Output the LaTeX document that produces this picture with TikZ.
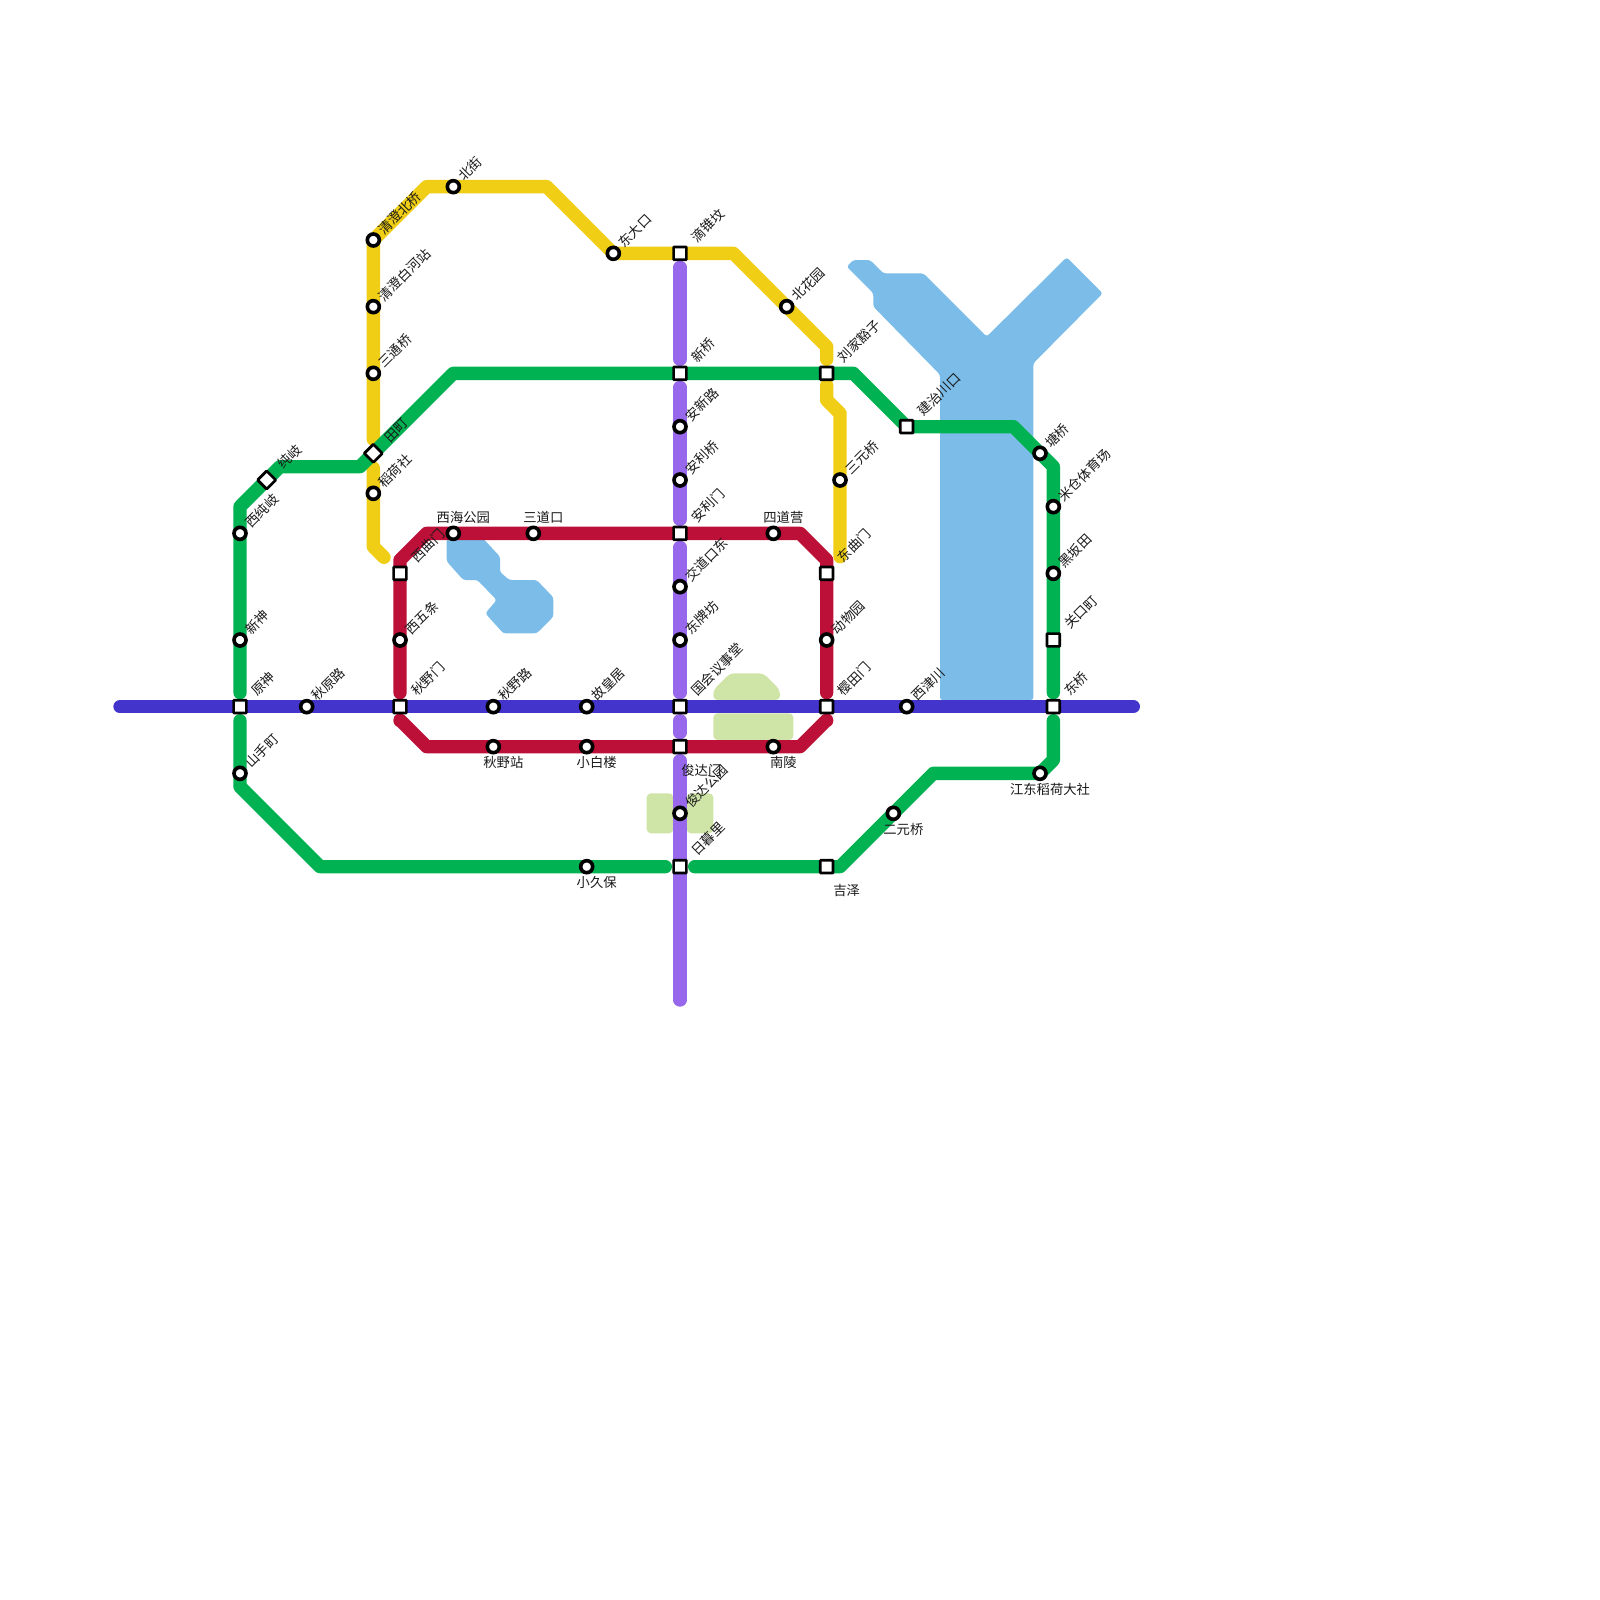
\documentclass[tikz,border=0pt]{standalone}
\usepackage{fontspec}
\setmainfont{Noto Sans CJK SC}
\usetikzlibrary{calc}
\pgfdeclarelayer{waterlayer}
\pgfdeclarelayer{linelayer}
\pgfsetlayers{waterlayer,linelayer,main}
\definecolor{cyellow}{HTML}{F0CE15}
\definecolor{cgreen}{HTML}{00B251}
\definecolor{cred}{HTML}{BD1038}
\definecolor{cpurple}{HTML}{9768EC}
\definecolor{cblue}{HTML}{4334CC}
\definecolor{cwater}{HTML}{7BBDE8}
\definecolor{cpark}{HTML}{CFE4A7}
\tikzset{
 cstn/.style={circle,draw=black,fill=white,line width=0.068cm,minimum size=0.225cm,inner sep=0pt},
 sstn/.style={rectangle,draw=black,fill=white,line width=0.05cm,minimum size=0.24cm,inner sep=0pt,rounded corners=0.4pt},
 dstn/.style={sstn,rotate=45},
 mline/.style={line width=0.25cm,line cap=round,line join=round},
 water/.style={fill=cwater,rounded corners=0.5mm},
 park/.style={fill=cpark,rounded corners=0.8mm},
 rlab/.style={rotate=45,anchor=west,inner sep=0pt,font=\fontsize{7.11pt}{8pt}\selectfont,text=black!90},
 hlab/.style={anchor=center,inner sep=0pt,font=\fontsize{7.11pt}{8pt}\selectfont,text=black!90},
}
\newcommand\cst[3]{\node[cstn] (#1) at (#2,#3) {};}
\newcommand\sst[3]{\node[sstn] (#1) at (#2,#3) {};}
\newcommand\dst[3]{\node[dstn] (#1) at (#2,#3) {};}
% rotated label beside a round station, and beside a square one
\newcommand\rc[2]{\node[rlab] (l#1) at ($(#1.center)+(0.55,-0.6)$) {#2};}
\newcommand\rs[2]{\node[rlab] (l#1) at ($(#1.center)+(1,-1)$) {#2};}
\newcommand\hl[4]{\node[hlab] (l#1) at (#2,#3) {#4};}
\begin{document}
\begin{tikzpicture}[x=0.25cm,y=-0.25cm]
\path[use as bounding box] (0,0) rectangle (120,120);
% stations
\cst{qcbq}{28}{18} \cst{qcbh}{28}{23} \cst{stq}{28}{28} \dst{tm}{28}{34} \cst{dhs}{28}{37}
\cst{bj}{34}{14} \cst{ddk}{46}{19} \sst{dzf}{51}{19} \cst{bhy}{59}{23}
\sst{ljhz}{62}{28} \sst{xq}{51}{28} \cst{axl}{51}{32} \cst{alq}{51}{36} \sst{alm}{51}{40}
\cst{syq}{63}{36} \sst{jzck}{68}{32} \cst{tq}{78}{34} \cst{mc}{79}{38} \cst{hbt}{79}{43}
\sst{gkd}{79}{48} \sst{dq}{79}{53} \sst{dqm}{62}{43} \cst{jdkd}{51}{44} \cst{dpf}{51}{48}
\cst{dwy}{62}{48} \sst{xqm}{30}{43} \cst{xwt}{30}{48} \sst{qym}{30}{53} \sst{ys}{18}{53}
\cst{xs}{18}{48} \cst{xcq}{18}{40} \dst{cq}{20}{36} \cst{qyl}{23}{53} \cst{qyr}{37}{53}
\cst{ghj}{44}{53} \sst{ghyst}{51}{53} \sst{ytm}{62}{53} \cst{xjc}{68}{53} \cst{ssd}{18}{58}
\cst{jdgy}{51}{61} \sst{rml}{51}{65} \cst{qyz}{37}{56} \cst{xbl}{44}{56} \sst{jdm}{51}{56}
\cst{nl}{58}{56} \cst{eyq}{67}{61} \cst{xjb}{44}{65} \sst{jz}{62}{65} \cst{jd}{78}{58}
\cst{sdy}{58}{40} \cst{sdk}{40}{40} \cst{xhgy}{34}{40}
% labels
\rc{qcbq}{清澄北桥} \rc{qcbh}{清澄白河站} \rc{stq}{三通桥} \rs{tm}{田町} \rc{dhs}{稻荷社}
\rc{bj}{北街} \rc{ddk}{东大口} \rs{dzf}{滴锥坟} \rc{bhy}{北花园} \rs{ljhz}{刘家豁子}
\rs{xq}{新桥} \rc{axl}{安新路} \rc{alq}{安利桥} \rs{alm}{安利门} \rc{syq}{三元桥}
\rs{jzck}{建治川口} \rc{tq}{塘桥} \rc{mc}{米仓体育场} \rc{hbt}{黑坂田} \rs{gkd}{关口町}
\rs{dq}{东桥} \rs{dqm}{东曲门} \rc{jdkd}{交道口东} \rc{dpf}{东牌坊} \rc{dwy}{动物园}
\rs{xqm}{西曲门} \rc{xwt}{西五条} \rs{qym}{秋野门} \rs{ys}{原神} \rc{xs}{新神}
\rc{xcq}{西纯岐} \rs{cq}{纯岐} \rc{qyl}{秋原路} \rc{qyr}{秋野路} \rc{ghj}{故皇居}
\rs{ghyst}{国会议事堂} \rs{ytm}{樱田门} \rc{xjc}{西津川} \rc{ssd}{山手町} \rc{jdgy}{俊达公园}
\rs{rml}{日暮里}
\hl{xhgy}{34.75}{38.8}{西海公园} \hl{sdk}{40.75}{38.8}{三道口} \hl{sdy}{58.75}{38.8}{四道营}
\hl{qyz}{37.75}{57.2}{秋野站} \hl{xbl}{44.75}{57.2}{小白楼} \hl{nl}{58.75}{57.2}{南陵}
\hl{jdm}{52.6}{57.8}{俊达门} \hl{eyq}{67.75}{62.2}{二元桥} \hl{xjb}{44.75}{66.2}{小久保}
\hl{jz}{63.5}{66.75}{吉泽} \hl{jd}{78.75}{59.2}{江东稻荷大社}
% water and parks
\begin{pgfonlayer}{waterlayer}
\fill[white] (0,0) rectangle (120,120);
\fill[water] (63.5,20) -- (64,19.5) -- (65.25,19.5) -- (66.25,20.5) -- (69.25,20.5) -- (74,25.25) -- (80,19.3) -- (82.7,22) -- (77.5,27.25) -- (77.5,52.5) -- (70.5,52.5) -- (70.5,28.1) -- (65.5,23) -- (65.5,22) -- cycle;
\fill[water] (33.5,40.4) -- (36.25,40.4) -- (37.5,41.75) -- (37.5,42.9) -- (38.2,43.5) -- (40.25,43.5) -- (41.5,44.8) -- (41.5,46.25) -- (40.25,47.5) -- (37.75,47.5) -- (36.4,46) -- (37.25,45) -- (35.8,43.5) -- (34.75,43.5) -- (33.5,42.1) -- cycle;
\fill[park] (54.75,50.5) -- (57.25,50.5) -- (58.5,51.75) -- (58.5,52.5) -- (53.5,52.5) -- (53.5,51.75) -- cycle;
\fill[park] (53.5,53.5) rectangle (59.5,55.5);
\fill[park] (48.5,59.5) rectangle (50.5,62.5);
\fill[park] (51.5,59.5) rectangle (53.5,62.5);
\end{pgfonlayer}
% lines
\begin{pgfonlayer}{linelayer}
\draw[mline,cyellow] (28.8,41.8) -- (28,41) -- (dhs.center) -- ($(tm.center)+(0,1.1)$);
\draw[mline,cyellow] ($(tm.center)+(0,-1.05)$) -- (stq.center) -- (qcbh.center) -- (qcbq.center) -- (32,14) -- (bj.center) -- (41,14) -- (ddk.center) -- (dzf.center) -- (55,19) -- (bhy.center) -- (62,26) -- ($(ljhz.center)+(0,-1.05)$);
\draw[mline,cyellow] ($(ljhz.center)+(0,0.9)$) -- (62,30) -- (63,31) -- (syq.center) -- (63,41.75);
\draw[mline,cpurple] ($(dzf.center)+(0,1.05)$) -- ($(xq.center)+(0,-1.05)$);
\draw[mline,cpurple] ($(xq.center)+(0,1.05)$) -- (axl.center) -- (alq.center) -- ($(alm.center)+(0,-1.05)$);
\draw[mline,cpurple] ($(alm.center)+(0,1.05)$) -- (jdkd.center) -- (dpf.center) -- ($(ghyst.center)+(0,-1.05)$);
\draw[mline,cpurple] ($(ghyst.center)+(0,1.05)$) -- ($(jdm.center)+(0,-1.05)$);
\draw[mline,cpurple] ($(jdm.center)+(0,1.05)$) -- (jdgy.center) -- (rml.center) -- (51,75);
\draw[mline,cgreen] ($(ys.center)+(0,-1.05)$) -- (xs.center) -- (xcq.center) -- (18,38) -- (cq.center) -- (21,35) -- (27,35) -- (tm.center) -- (34,28) -- (xq.center) -- (ljhz.center) -- (64,28) -- (jzck.center) -- (76,32) -- (tq.center) -- (79,35) -- (mc.center) -- (hbt.center) -- (gkd.center) -- ($(dq.center)+(0,-1.05)$);
\draw[mline,cgreen] ($(dq.center)+(0,1.05)$) -- (79,57) -- (jd.center) -- (70,58) -- (eyq.center) -- (63,65) -- (jz.center) -- ($(rml.center)+(1.1,0)$);
\draw[mline,cgreen] ($(rml.center)+(-1.1,0)$) -- (xjb.center) -- (24,65) -- (18,59) -- (ssd.center) -- ($(ys.center)+(0,1.05)$);
\draw[mline,cred] ($(qym.center)+(0,-1.05)$) -- (xwt.center) -- (xqm.center) -- (30,42) -- (32,40) -- (xhgy.center) -- (sdk.center) -- (alm.center) -- (sdy.center) -- (60,40) -- (62,42) -- (dqm.center) -- (dwy.center) -- ($(ytm.center)+(0,-1.05)$);
\draw[mline,cred] ($(qym.center)+(0,1.05)$) -- (30,54) -- (32,56) -- (qyz.center) -- (xbl.center) -- (jdm.center) -- (nl.center) -- (60,56) -- (62,54) -- ($(ytm.center)+(0,1.05)$);
\draw[mline,cblue] (9,53) -- (ys.center) -- (qyl.center) -- (qym.center) -- (qyr.center) -- (ghj.center) -- (ghyst.center) -- (ytm.center) -- (xjc.center) -- (dq.center) -- (85,53);
\end{pgfonlayer}
\end{tikzpicture}
\end{document}
